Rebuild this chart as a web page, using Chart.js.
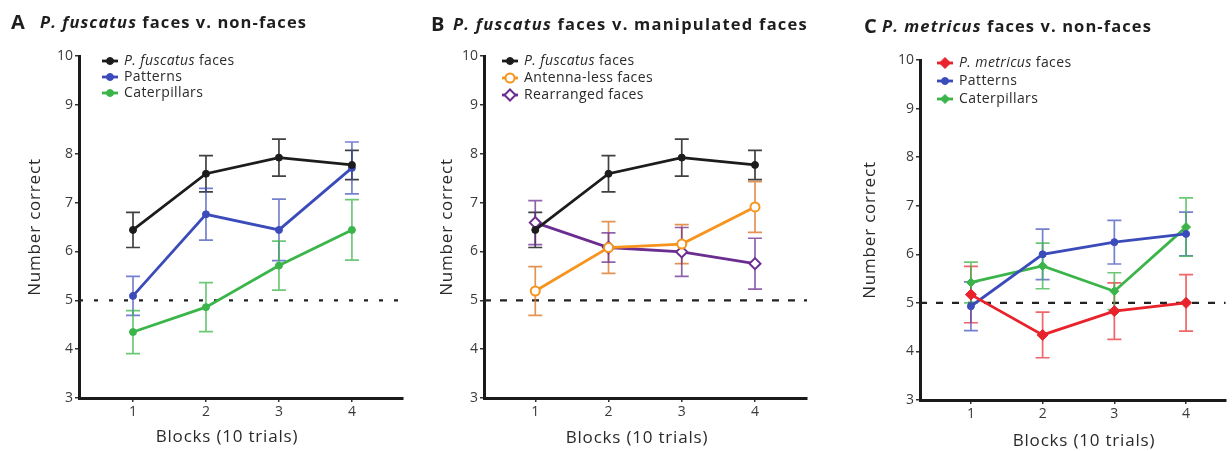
<!DOCTYPE html>
<html>
<head>
<meta charset="utf-8">
<script src="https://cdn.jsdelivr.net/npm/chart.js@4.4.0/dist/chart.umd.min.js"></script>
<style>
  body { margin: 0; background: #fff; width: 1232px; height: 451px; overflow: hidden; position: relative; }
  .panel { position: absolute; top: 0; height: 451px; }
</style>
</head>
<body>
<div class="panel" style="left:0;width:410px"><canvas id="chartA"></canvas></div>
<div class="panel" style="left:410px;width:410px"><canvas id="chartB"></canvas></div>
<div class="panel" style="left:820px;width:412px"><canvas id="chartC"></canvas></div>
<script>
// blocks of 10 trials and axis ticks
const blocks = [1, 2, 3, 4];
const blockLabels = ["1", "2", "3", "4"];
const yTickValues = [3, 4, 5, 6, 7, 8, 9, 10];
const chanceLevel = 5;

// A / B: P. fuscatus faces (same data in both panels)
const fuscatusFaces = [6.44, 7.59, 7.92, 7.77];
const fuscatusFacesErr = [0.36, 0.37, 0.38, 0.30];

// A: non-faces
const patternsA = [5.09, 6.76, 6.44, 7.71];
const patternsAErr = [0.40, 0.53, 0.63, 0.53];
const caterpillarsA = [4.35, 4.86, 5.71, 6.44];
const caterpillarsAErr = [0.44, 0.50, 0.50, 0.62];

// B: manipulated faces
const antennaLess = [5.19, 6.08, 6.15, 6.91];
const antennaLessErr = [0.50, 0.53, 0.40, 0.52];
const rearranged = [6.59, 6.08, 5.99, 5.75];
const rearrangedErr = [0.45, 0.30, 0.50, 0.52];

// C: P. metricus
const metricusFaces = [5.17, 4.34, 4.83, 5.00];
const metricusFacesErr = [0.58, 0.47, 0.58, 0.58];
const patternsC = [4.93, 6.00, 6.25, 6.42];
const patternsCErr = [0.50, 0.52, 0.45, 0.45];
const caterpillarsC = [5.42, 5.76, 5.24, 6.56];
const caterpillarsCErr = [0.42, 0.47, 0.38, 0.60];

const FONT = "'Open Sans', 'Noto Sans', sans-serif";
const BLACK = "#1c1c1c", BLUE = "#3b4cba", GREEN = "#3bb54a";
const ORANGE = "#f7941d", PURPLE = "#6b2d90", RED = "#e8232b";

function toPoints(values) {
  return values.map((v, i) => ({ x: blocks[i], y: v }));
}

function series(label, values, errs, color, errColor, style, radius, hollow) {
  return {
    label: label,
    data: toPoints(values),
    errors: errs,
    errColor: errColor,
    borderColor: color,
    borderWidth: 2.8,
    showLine: true,
    pointStyle: style,
    pointRadius: radius,
    pointHoverRadius: radius,
    pointBorderWidth: hollow ? 2 : 1,
    pointBorderColor: color,
    pointBackgroundColor: hollow ? "#fff" : color
  };
}

function drawMarker(ctx, style, r, x, y) {
  ctx.beginPath();
  if (style === "rectRot") {
    ctx.moveTo(x, y - r); ctx.lineTo(x + r, y); ctx.lineTo(x, y + r); ctx.lineTo(x - r, y);
    ctx.closePath();
  } else {
    ctx.arc(x, y, r, 0, Math.PI * 2);
  }
  ctx.fill();
  ctx.stroke();
}

// text made of plain and italic pieces
function drawParts(ctx, parts, x, y, size, bold, spacing) {
  ctx.letterSpacing = spacing + "px";
  parts.forEach(p => {
    ctx.font = (p.italic ? "italic " : "") + (bold ? "bold " : "") + size + "px " + FONT;
    ctx.fillText(p.text, x, y);
    x += ctx.measureText(p.text).width;
  });
  ctx.letterSpacing = "0px";
}

function partsWidth(ctx, parts, size, bold) {
  let w = 0, n = 0;
  parts.forEach(p => {
    ctx.font = (p.italic ? "italic " : "") + (bold ? "bold " : "") + size + "px " + FONT;
    w += ctx.measureText(p.text).width;
    n += p.text.length;
  });
  return { w, n };
}

// chance line, error bars, panel title, legend and axis titles
const decorPlugin = {
  id: "decor",
  beforeDatasetsDraw(chart, args, opts) {
    const { ctx, chartArea, scales: { x, y } } = chart;
    ctx.save();
    const yc = y.getPixelForValue(chanceLevel);
    ctx.strokeStyle = "#222";
    ctx.lineWidth = 2.2;
    ctx.setLineDash(opts.dash);
    ctx.beginPath();
    ctx.moveTo(chartArea.left, yc);
    ctx.lineTo(chartArea.right, yc);
    ctx.stroke();
    ctx.setLineDash([]);

    chart.data.datasets.forEach(ds => {
      ctx.strokeStyle = ds.errColor;
      ctx.lineWidth = 1.7;
      ds.data.forEach((pt, i) => {
        const px = x.getPixelForValue(pt.x);
        const hi = y.getPixelForValue(pt.y + ds.errors[i]);
        const lo = y.getPixelForValue(pt.y - ds.errors[i]);
        ctx.beginPath();
        ctx.moveTo(px, hi); ctx.lineTo(px, lo);
        ctx.moveTo(px - 7, hi); ctx.lineTo(px + 7, hi);
        ctx.moveTo(px - 7, lo); ctx.lineTo(px + 7, lo);
        ctx.stroke();
      });
    });
    ctx.restore();
  },
  afterDraw(chart, args, opts) {
    const { ctx, chartArea } = chart;
    ctx.save();
    ctx.fillStyle = "#1e1e1e";
    ctx.textBaseline = "middle";
    ctx.textAlign = "left";

    // panel title, spaced out to the width of the original
    ctx.font = "bold 20px " + FONT;
    ctx.fillText(opts.letter, opts.letterX, opts.titleY);
    const tw = partsWidth(ctx, opts.title, 16.5, true);
    const sp = Math.max(0, (opts.titleWidth - tw.w) / tw.n);
    drawParts(ctx, opts.title, opts.titleX, opts.titleY, 16.5, true, sp);

    // legend
    chart.data.datasets.forEach((ds, i) => {
      const ly = opts.legendY + i * opts.legendStep;
      ctx.strokeStyle = ds.borderColor;
      ctx.lineWidth = 2.8;
      ctx.beginPath();
      ctx.moveTo(opts.legendX - 8, ly);
      ctx.lineTo(opts.legendX + 8, ly);
      ctx.stroke();
      ctx.fillStyle = ds.pointBackgroundColor;
      ctx.lineWidth = ds.pointBorderWidth;
      drawMarker(ctx, ds.pointStyle, ds.pointRadius, opts.legendX, ly);
      ctx.fillStyle = "#2a2a2a";
      drawParts(ctx, opts.legendText[i], opts.legendX + 14, ly, 14, false, 0.4);
    });

    // axis titles
    ctx.textAlign = "center";
    ctx.fillStyle = "#2a2a2a";
    ctx.font = "17px " + FONT;
    ctx.letterSpacing = "0.8px";
    ctx.fillText("Blocks (10 trials)", opts.xTitleX, opts.xTitleY);
    ctx.translate(opts.yTitleX, (chartArea.top + chartArea.bottom) / 2);
    ctx.rotate(-Math.PI / 2);
    ctx.fillText("Number correct", 0, 0);
    ctx.letterSpacing = "0px";
    ctx.restore();
  }
};

function makePanel(id, p) {
  const tickFont = { family: FONT, size: 14 };
  new Chart(document.getElementById(id), {
    type: "scatter",
    data: { datasets: p.datasets },
    options: {
      responsive: true,
      maintainAspectRatio: false,
      animation: false,
      layout: { padding: { left: 0, right: p.padRight, top: p.top, bottom: 0 } },
      scales: {
        x: {
          type: "linear",
          min: p.xMin,
          max: p.xMax,
          afterBuildTicks: s => { s.ticks = blocks.map(v => ({ value: v })); },
          afterFit: s => { s.height = p.xAxisHeight; },
          ticks: {
            font: tickFont,
            color: "#3a3a3a",
            padding: 2,
            callback: v => blockLabels[blocks.indexOf(v)]
          },
          grid: { display: true, drawOnChartArea: false, drawTicks: true, tickLength: 4, color: "#333", lineWidth: 1.5 },
          border: { display: true, color: "#1a1a1a", width: 3 }
        },
        y: {
          type: "linear",
          min: 3,
          max: 10,
          afterBuildTicks: s => { s.ticks = yTickValues.map(v => ({ value: v })); },
          afterFit: s => { s.width = p.left; },
          ticks: { font: tickFont, color: "#3a3a3a", padding: 2 },
          grid: { display: true, drawOnChartArea: false, drawTicks: true, tickLength: 4, color: "#333", lineWidth: 1.5 },
          border: { display: true, color: "#1a1a1a", width: 3 }
        }
      },
      plugins: {
        legend: { display: false },
        tooltip: { enabled: false },
        decor: p.decor
      }
    },
    plugins: [decorPlugin]
  });
}

makePanel("chartA", {
  left: 79, padRight: 7, top: 56, xAxisHeight: 53, xMin: 0.26, xMax: 4.70,
  datasets: [
    series("P. fuscatus faces", fuscatusFaces, fuscatusFacesErr, BLACK, "rgba(30,30,30,0.85)", "circle", 3.5, false),
    series("Patterns", patternsA, patternsAErr, BLUE, "rgba(59,76,186,0.7)", "circle", 3.5, false),
    series("Caterpillars", caterpillarsA, caterpillarsAErr, GREEN, "rgba(59,181,74,0.75)", "circle", 3.5, false)
  ],
  decor: {
    dash: [4, 11],
    letter: "A", letterX: 11, titleX: 40, titleY: 23, titleWidth: 267,
    title: [{ text: "P. fuscatus", italic: true }, { text: " faces v. non-faces" }],
    legendX: 110, legendY: 61, legendStep: 16,
    legendText: [
      [{ text: "P. fuscatus", italic: true }, { text: " faces" }],
      [{ text: "Patterns" }],
      [{ text: "Caterpillars" }]
    ],
    xTitleX: 227, xTitleY: 437, yTitleX: 35
  }
});

makePanel("chartB", {
  left: 74, padRight: 13, top: 56, xAxisHeight: 53, xMin: 0.30, xMax: 4.71,
  datasets: [
    series("P. fuscatus faces", fuscatusFaces, fuscatusFacesErr, BLACK, "rgba(30,30,30,0.85)", "circle", 3.5, false),
    series("Antenna-less faces", antennaLess, antennaLessErr, ORANGE, "rgba(220,120,40,0.8)", "circle", 4.5, true),
    series("Rearranged faces", rearranged, rearrangedErr, PURPLE, "rgba(107,45,144,0.75)", "rectRot", 5.5, true)
  ],
  decor: {
    dash: [7, 9],
    letter: "B", letterX: 21, titleX: 43, titleY: 25, titleWidth: 355,
    title: [{ text: "P. fuscatus", italic: true }, { text: " faces v. manipulated faces" }],
    legendX: 100, legendY: 61, legendStep: 17,
    legendText: [
      [{ text: "P. fuscatus", italic: true }, { text: " faces" }],
      [{ text: "Antenna-less faces" }],
      [{ text: "Rearranged faces" }]
    ],
    xTitleX: 227, xTitleY: 438, yTitleX: 37
  }
});

makePanel("chartC", {
  left: 100, padRight: 0, top: 60, xAxisHeight: 51, xMin: 0.29, xMax: 4.55,
  datasets: [
    series("P. metricus faces", metricusFaces, metricusFacesErr, RED, "rgba(232,35,43,0.7)", "rectRot", 5.5, false),
    series("Patterns", patternsC, patternsCErr, BLUE, "rgba(59,76,186,0.7)", "circle", 3.5, false),
    series("Caterpillars", caterpillarsC, caterpillarsCErr, GREEN, "rgba(59,181,74,0.75)", "rectRot", 4.5, false)
  ],
  decor: {
    dash: [7, 9],
    letter: "C", letterX: 44, titleX: 62, titleY: 27, titleWidth: 270,
    title: [{ text: "P. metricus", italic: true }, { text: " faces v. non-faces" }],
    legendX: 125, legendY: 63, legendStep: 18,
    legendText: [
      [{ text: "P. metricus", italic: true }, { text: " faces" }],
      [{ text: "Patterns" }],
      [{ text: "Caterpillars" }]
    ],
    xTitleX: 264, xTitleY: 441, yTitleX: 50
  }
});
</script>
</body>
</html>
